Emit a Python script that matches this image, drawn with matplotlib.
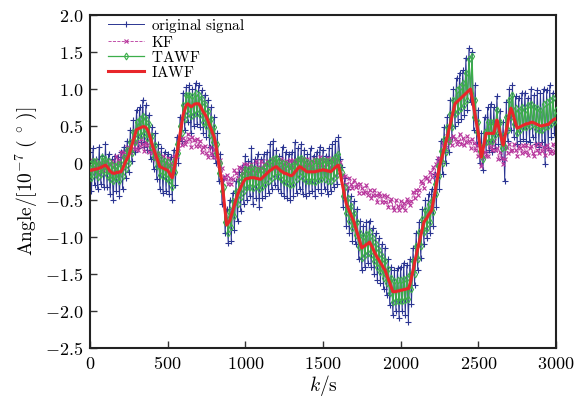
import numpy as np
import matplotlib
matplotlib.use("Agg")
import matplotlib.pyplot as plt

# time axis (s), one sample every 10 s
t = np.arange(0, 3001, 10)

original_signal = [
    0.15, -0.38, 0.20, -0.30, 0.05, -0.35, 0.22, -0.28, 0.10, -0.32,
    0.25, -0.32, 0.12, -0.42, 0.05, -0.50, 0.10, -0.38, 0.08, -0.45,
    0.15, -0.35, 0.22, -0.20, 0.30, -0.12, 0.45, 0.02, 0.58, 0.15,
    0.72, 0.20, 0.75, 0.28, 0.85, 0.22, 0.78, 0.18, 0.65, 0.05,
    0.48, -0.08, 0.40, -0.22, 0.25, -0.35, 0.20, -0.40, 0.15, -0.38,
    0.12, -0.42, 0.08, -0.50, 0.18, -0.30, 0.35, 0.00, 0.62, 0.30,
    0.95, 0.45, 1.02, 0.55, 1.05, 0.40, 1.00, 0.50, 1.08, 0.52,
    1.05, 0.48, 0.98, 0.40, 0.92, 0.35, 0.85, 0.22, 0.75, 0.10,
    0.62, 0.00, 0.40, -0.25, 0.12, -0.55, -0.20, -0.95, -0.62, -1.08,
    -0.50, -1.05, -0.40, -0.90, -0.25, -0.78, -0.12, -0.65, -0.05, -0.55,
    0.10, -0.50, 0.02, -0.45, 0.20, -0.55, 0.05, -0.48, 0.12, -0.60,
    0.05, -0.48, 0.12, -0.45, 0.15, -0.40, 0.25, -0.35, 0.30, -0.30,
    0.18, -0.35, 0.10, -0.40, 0.22, -0.45, 0.15, -0.48, 0.12, -0.50,
    0.15, -0.45, 0.28, -0.40, 0.20, -0.35, 0.25, -0.42, 0.18, -0.45,
    0.12, -0.40, 0.20, -0.38, 0.10, -0.45, 0.15, -0.35, 0.22, -0.40,
    0.18, -0.35, 0.10, -0.42, 0.20, -0.38, 0.25, -0.32, 0.30, -0.28,
    0.35, 0.05, -0.05, -0.60, -0.20, -0.85, -0.35, -0.95, -0.45, -1.05,
    -0.52, -1.10, -0.62, -1.30, -0.78, -1.45, -0.85, -1.40, -0.80, -1.35,
    -0.78, -1.40, -0.88, -1.50, -0.95, -1.58, -1.02, -1.62, -1.10, -1.70,
    -1.15, -1.78, -1.30, -1.92, -1.40, -2.05, -1.45, -2.00, -1.42, -2.10,
    -1.40, -2.00, -1.35, -2.05, -1.38, -2.15, -1.30, -1.90, -1.15, -1.65,
    -0.95, -1.45, -0.80, -1.28, -0.62, -1.10, -0.50, -1.02, -0.42, -0.95,
    -0.35, -0.85, -0.15, -0.60, 0.05, -0.35, 0.30, -0.15, 0.48, 0.00,
    0.62, 0.15, 0.85, 0.35, 1.00, 0.50, 1.15, 0.55, 1.22, 0.60,
    1.25, 0.65, 1.42, 0.72, 1.55, 0.82, 1.50, 0.45, 1.05, 0.25,
    0.72, 0.00, 0.40, -0.10, 0.62, 0.15, 0.75, 0.18, 0.80, 0.15,
    0.75, 0.20, 0.90, 0.25, 0.70, 0.05, 0.55, -0.25, 0.82, 0.30,
    1.00, 0.45, 1.05, 0.35, 0.90, 0.25, 0.88, 0.30, 0.95, 0.32,
    0.95, 0.30, 0.88, 0.28, 1.00, 0.35, 0.92, 0.25, 0.98, 0.22,
    0.95, 0.28, 1.00, -0.02, 0.98, 0.20, 1.05, 0.35, 0.95, 0.40,
    0.85,
]

kf = [
    0.04, -0.08, -0.05, 0.04, -0.03, -0.12, 0.00, -0.03, -0.10, 0.01,
    -0.08, 0.02, -0.11, -0.01, 0.03, -0.05, -0.08, 0.09, 0.04, 0.01,
    0.15, 0.08, 0.15, 0.07, 0.22, 0.19, 0.15, 0.19, 0.30, 0.19,
    0.28, 0.18, 0.23, 0.32, 0.26, 0.16, 0.28, 0.24, 0.15, 0.24,
    0.13, 0.20, 0.05, 0.12, 0.13, 0.02, -0.04, 0.09, 0.01, -0.05,
    0.07, -0.04, 0.00, -0.09, 0.08, 0.09, 0.10, 0.20, 0.34, 0.24,
    0.34, 0.25, 0.30, 0.39, 0.32, 0.22, 0.35, 0.31, 0.23, 0.33,
    0.23, 0.30, 0.15, 0.22, 0.23, 0.13, 0.08, 0.22, 0.14, 0.08,
    0.19, 0.08, 0.11, -0.03, 0.04, -0.07, -0.19, -0.22, -0.16, -0.29,
    -0.21, -0.29, -0.22, -0.10, -0.13, -0.20, -0.05, -0.07, -0.13, -0.02,
    -0.11, -0.02, -0.14, -0.05, -0.01, -0.10, -0.14, 0.02, -0.05, -0.10,
    0.02, -0.07, -0.02, -0.11, 0.02, -0.03, -0.09, -0.05, 0.05, -0.07,
    0.01, -0.09, -0.05, 0.05, -0.01, -0.10, 0.03, 0.00, -0.07, 0.04,
    -0.05, 0.04, -0.08, 0.01, 0.04, -0.05, -0.09, 0.06, -0.01, -0.06,
    0.06, -0.03, 0.02, -0.07, 0.06, 0.01, -0.05, -0.02, 0.08, -0.04,
    0.04, -0.06, -0.02, 0.07, 0.01, -0.08, 0.05, 0.02, -0.05, 0.06,
    -0.03, 0.01, -0.19, -0.16, -0.17, -0.28, -0.34, -0.20, -0.28, -0.34,
    -0.23, -0.33, -0.29, -0.40, -0.28, -0.34, -0.41, -0.39, -0.30, -0.43,
    -0.36, -0.47, -0.44, -0.36, -0.43, -0.53, -0.41, -0.45, -0.53, -0.43,
    -0.53, -0.45, -0.59, -0.51, -0.49, -0.59, -0.64, -0.50, -0.58, -0.63,
    -0.51, -0.60, -0.54, -0.63, -0.49, -0.53, -0.57, -0.52, -0.39, -0.48,
    -0.36, -0.43, -0.36, -0.24, -0.27, -0.34, -0.19, -0.20, -0.25, -0.12,
    -0.19, -0.06, -0.15, -0.02, 0.07, 0.04, 0.06, 0.27, 0.24, 0.22,
    0.36, 0.28, 0.34, 0.24, 0.37, 0.32, 0.26, 0.29, 0.39, 0.26,
    0.34, 0.24, 0.28, 0.36, 0.30, 0.20, 0.32, 0.27, 0.17, 0.24,
    0.09, 0.12, -0.04, 0.08, 0.15, 0.10, 0.10, 0.27, 0.21, 0.17,
    0.29, 0.18, 0.20, 0.06, 0.15, 0.07, -0.01, 0.06, 0.21, 0.14,
    0.26, 0.16, 0.18, 0.25, 0.18, 0.09, 0.23, 0.20, 0.13, 0.24,
    0.15, 0.24, 0.11, 0.20, 0.23, 0.14, 0.10, 0.25, 0.18, 0.13,
    0.25, 0.16, 0.21, 0.11, 0.24, 0.19, 0.13, 0.16, 0.26, 0.14,
    0.19,
]

tawf = [
    -0.02, -0.21, 0.03, -0.15, 0.02, -0.19, -0.01, -0.15, 0.08, -0.10,
    0.06, -0.16, 0.02, -0.22, -0.03, -0.25, -0.04, -0.21, -0.02, -0.24,
    -0.02, -0.18, 0.08, -0.08, 0.18, 0.00, 0.28, 0.14, 0.42, 0.28,
    0.56, 0.36, 0.60, 0.38, 0.64, 0.40, 0.60, 0.34, 0.52, 0.22,
    0.36, 0.08, 0.24, -0.04, 0.12, -0.16, 0.05, -0.18, 0.03, -0.20,
    0.01, -0.25, -0.06, -0.32, 0.02, -0.12, 0.25, 0.14, 0.50, 0.40,
    0.78, 0.60, 0.92, 0.68, 0.92, 0.63, 0.90, 0.66, 0.95, 0.68,
    0.92, 0.65, 0.86, 0.56, 0.80, 0.50, 0.70, 0.38, 0.60, 0.28,
    0.48, 0.14, 0.26, -0.14, 0.00, -0.38, -0.32, -0.80, -0.70, -0.95,
    -0.64, -0.86, -0.52, -0.72, -0.38, -0.56, -0.25, -0.46, -0.16, -0.38,
    -0.08, -0.33, -0.10, -0.32, -0.06, -0.34, -0.08, -0.31, -0.09, -0.35,
    -0.10, -0.32, -0.06, -0.28, -0.02, -0.24, 0.02, -0.20, 0.05, -0.17,
    0.07, -0.17, 0.03, -0.22, 0.00, -0.26, -0.02, -0.27, -0.04, -0.30,
    -0.04, -0.28, 0.01, -0.22, 0.06, -0.17, 0.07, -0.20, 0.04, -0.24,
    0.01, -0.25, 0.00, -0.24, 0.02, -0.26, 0.03, -0.23, 0.03, -0.22,
    0.04, -0.22, 0.03, -0.24, 0.02, -0.25, 0.04, -0.20, 0.08, -0.16,
    0.12, -0.05, -0.12, -0.45, -0.33, -0.68, -0.48, -0.78, -0.58, -0.88,
    -0.68, -0.98, -0.80, -1.14, -0.95, -1.28, -1.00, -1.25, -0.96, -1.22,
    -0.94, -1.24, -1.02, -1.33, -1.10, -1.40, -1.18, -1.48, -1.26, -1.55,
    -1.32, -1.62, -1.44, -1.76, -1.55, -1.88, -1.60, -1.86, -1.58, -1.87,
    -1.58, -1.86, -1.57, -1.85, -1.56, -1.84, -1.50, -1.70, -1.32, -1.50,
    -1.12, -1.30, -0.94, -1.12, -0.76, -0.94, -0.64, -0.88, -0.56, -0.80,
    -0.50, -0.66, -0.28, -0.42, -0.04, -0.18, 0.16, 0.00, 0.32, 0.15,
    0.48, 0.30, 0.66, 0.48, 0.85, 0.66, 0.98, 0.70, 1.02, 0.74,
    1.08, 0.78, 1.22, 0.85, 1.40, 0.95, 1.45, 0.62, 0.85, 0.42,
    0.55, 0.16, 0.22, 0.06, 0.42, 0.28, 0.55, 0.30, 0.56, 0.30,
    0.55, 0.38, 0.72, 0.40, 0.56, 0.20, 0.36, 0.22, 0.62, 0.45,
    0.85, 0.62, 0.92, 0.52, 0.74, 0.40, 0.70, 0.45, 0.76, 0.48,
    0.72, 0.48, 0.78, 0.50, 0.80, 0.52, 0.76, 0.46, 0.74, 0.45,
    0.72, 0.45, 0.80, 0.48, 0.82, 0.50, 0.85, 0.52, 0.88, 0.55,
    0.72,
]

iawf = [
    -0.10, -0.10, -0.09, -0.09, -0.08, -0.08, -0.07, -0.06, -0.05, -0.04,
    -0.03, -0.05, -0.08, -0.11, -0.13, -0.14, -0.14, -0.13, -0.13, -0.12,
    -0.12, -0.08, -0.03, 0.02, 0.06, 0.10, 0.17, 0.24, 0.31, 0.38,
    0.45, 0.46, 0.47, 0.48, 0.49, 0.49, 0.48, 0.45, 0.40, 0.33,
    0.25, 0.19, 0.13, 0.07, 0.01, -0.05, -0.06, -0.07, -0.08, -0.09,
    -0.10, -0.13, -0.17, -0.20, -0.10, 0.00, 0.13, 0.26, 0.39, 0.52,
    0.65, 0.72, 0.78, 0.80, 0.78, 0.76, 0.77, 0.79, 0.80, 0.80,
    0.80, 0.77, 0.73, 0.69, 0.66, 0.62, 0.57, 0.51, 0.46, 0.40,
    0.35, 0.25, 0.12, -0.02, -0.14, -0.25, -0.45, -0.65, -0.84, -0.81,
    -0.78, -0.71, -0.64, -0.57, -0.50, -0.43, -0.38, -0.33, -0.29, -0.25,
    -0.22, -0.21, -0.21, -0.20, -0.20, -0.20, -0.20, -0.21, -0.21, -0.22,
    -0.22, -0.20, -0.18, -0.16, -0.14, -0.12, -0.10, -0.09, -0.07, -0.06,
    -0.05, -0.07, -0.09, -0.11, -0.12, -0.14, -0.14, -0.15, -0.16, -0.17,
    -0.17, -0.15, -0.12, -0.10, -0.07, -0.05, -0.06, -0.08, -0.09, -0.11,
    -0.12, -0.12, -0.12, -0.12, -0.12, -0.12, -0.11, -0.11, -0.10, -0.10,
    -0.09, -0.10, -0.10, -0.11, -0.11, -0.12, -0.10, -0.08, -0.06, -0.04,
    -0.03, -0.13, -0.24, -0.34, -0.45, -0.55, -0.60, -0.65, -0.70, -0.75,
    -0.80, -0.87, -0.94, -1.01, -1.08, -1.15, -1.13, -1.12, -1.10, -1.09,
    -1.07, -1.11, -1.15, -1.20, -1.24, -1.28, -1.31, -1.35, -1.38, -1.42,
    -1.45, -1.51, -1.57, -1.62, -1.68, -1.74, -1.74, -1.74, -1.73, -1.73,
    -1.72, -1.72, -1.71, -1.71, -1.70, -1.70, -1.64, -1.55, -1.45, -1.35,
    -1.25, -1.16, -1.07, -0.98, -0.89, -0.80, -0.77, -0.74, -0.70, -0.67,
    -0.64, -0.52, -0.41, -0.29, -0.17, -0.05, 0.03, 0.11, 0.19, 0.27,
    0.35, 0.44, 0.53, 0.62, 0.71, 0.80, 0.82, 0.84, 0.86, 0.88,
    0.90, 0.92, 0.94, 0.96, 0.98, 1.00, 0.88, 0.76, 0.64, 0.52,
    0.40, 0.24, 0.08, 0.18, 0.29, 0.40, 0.40, 0.40, 0.40, 0.40,
    0.40, 0.49, 0.58, 0.50, 0.41, 0.32, 0.24, 0.34, 0.44, 0.54,
    0.66, 0.74, 0.68, 0.61, 0.54, 0.47, 0.48, 0.49, 0.50, 0.51,
    0.52, 0.53, 0.53, 0.54, 0.55, 0.55, 0.54, 0.53, 0.52, 0.51,
    0.50, 0.50, 0.51, 0.51, 0.52, 0.52, 0.54, 0.56, 0.58, 0.59,
    0.60,
]

xticks = [0, 500, 1000, 1500, 2000, 2500, 3000]
yticks = [-2.5, -2.0, -1.5, -1.0, -0.5, 0, 0.5, 1.0, 1.5, 2.0]
ytick_labels = [r"$-2.5$", r"$-2.0$", r"$-1.5$", r"$-1.0$", r"$-0.5$", r"$0$",
                r"$0.5$", r"$1.0$", r"$1.5$", r"$2.0$"]
xtick_labels = [r"$%d$" % v for v in xticks]

plt.rcParams["mathtext.fontset"] = "cm"
plt.rcParams["font.family"] = "serif"
plt.rcParams["font.serif"] = ["DejaVu Serif"]

fig = plt.figure(figsize=(5.84, 4.05), dpi=100)
ax = fig.add_axes([0.154, 0.141, 0.798, 0.822])

ax.plot(t, original_signal, color="#2b3592", lw=0.7, marker="+", ms=5, mew=0.8,
        label="original signal", zorder=1)
ax.plot(t, kf, color="#b8359c", lw=0.6, ls="--", marker="x", ms=3, mew=0.8,
        label="KF", zorder=2)
ax.plot(t, tawf, color="#3cae4a", lw=0.9, marker="d", ms=3.5, mew=0.8,
        mfc="none", label="TAWF", zorder=3)
ax.plot(t, iawf, color="#e8262b", lw=2.2, label="IAWF", zorder=4)

ax.set_xlim(0, 3000)
ax.set_ylim(-2.5, 2.0)
ax.set_xticks(xticks)
ax.set_xticklabels(xtick_labels, fontsize=13)
ax.set_yticks(yticks)
ax.set_yticklabels(ytick_labels, fontsize=13)
ax.tick_params(direction="in", length=5, width=1.0, color="#333333", pad=5)
for s in ax.spines.values():
    s.set_linewidth(1.5)
    s.set_color("#222222")

ax.set_xlabel(r"$k\mathrm{/s}$", fontsize=14, labelpad=0)
ax.set_ylabel(r"$\mathrm{Angle/[10^{-7}\ (\ ^{\circ}\ )]}$", fontsize=14, labelpad=4)

leg = ax.legend(loc="upper left", frameon=False,
                prop={"family": "serif", "size": 11},
                handlelength=2.4, handletextpad=0.45, labelspacing=0.0,
                borderpad=0.1, borderaxespad=0.0, bbox_to_anchor=(0.035, 1.0))
for txt in leg.get_texts():
    txt.set_text(r"$\mathrm{" + txt.get_text().replace(" ", r"\ ") + "}$")

fig.savefig("out.png", dpi=100)
